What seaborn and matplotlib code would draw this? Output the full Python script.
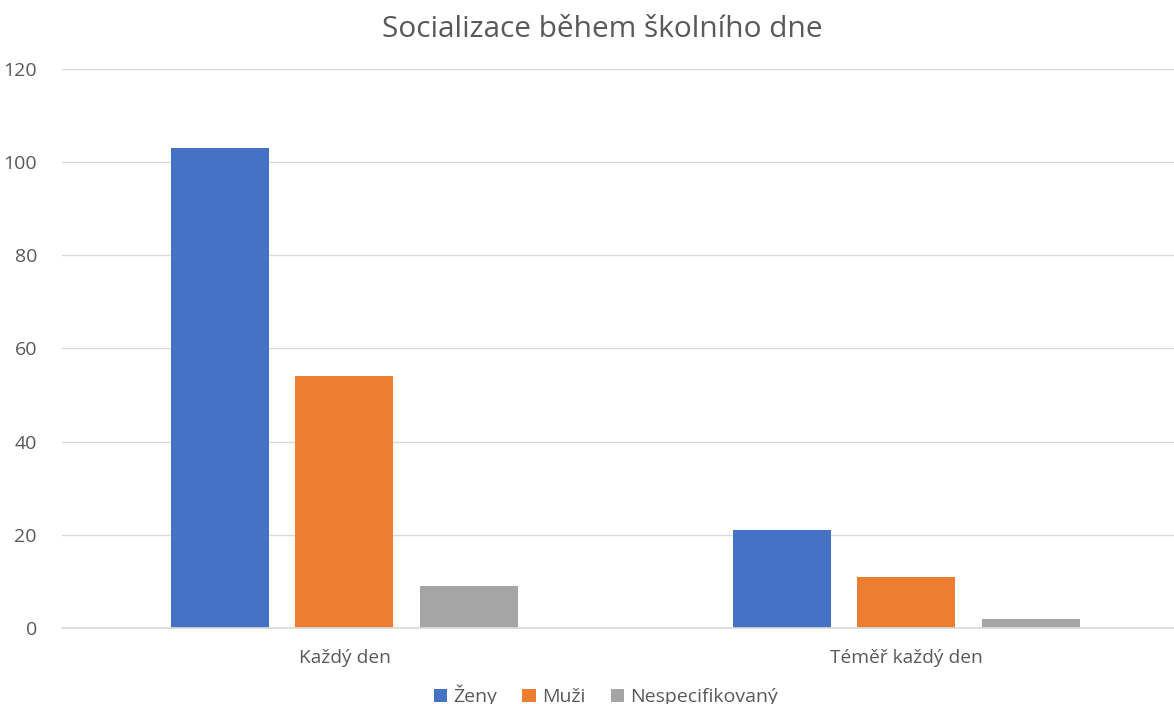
import matplotlib
matplotlib.use("Agg")
import matplotlib.pyplot as plt
import seaborn as sns
import pandas as pd

categories = ["Každý den", "Téměř každý den"]
series_names = ["Ženy", "Muži", "Nespecifikovaný"]
zeny = [103, 21]
muzi = [54, 11]
nespecifikovany = [9, 2]
y_ticks = [0, 20, 40, 60, 80, 100, 120]

colors = ["#4472C4", "#ED7D31", "#A5A5A5"]
text_color = "#595959"

rows = []
for name, vals in zip(series_names, [zeny, muzi, nespecifikovany]):
    for cat, v in zip(categories, vals):
        rows.append({"Kategorie": cat, "Pohlaví": name, "Počet": v})
df = pd.DataFrame(rows)

sns.set_theme(style="white")
plt.rcParams["font.family"] = ["Open Sans", "DejaVu Sans"]

fig = plt.figure(figsize=(11.74, 7.04), dpi=100)
ax = fig.add_axes([0.0528, 0.108, 0.9472, 0.794])

sns.barplot(data=df, x="Kategorie", y="Počet", hue="Pohlaví",
            hue_order=series_names, order=categories, palette=colors,
            width=0.665, gap=0.213, saturation=1, linewidth=0,
            ax=ax, legend=True)

ax.set_ylim(0, 120)
ax.set_xlim(-0.503, 1.477)
ax.set_yticks(y_ticks)
ax.set_yticklabels([str(t) for t in y_ticks], fontsize=14, color=text_color)
ax.tick_params(axis="x", labelsize=13.8, colors=text_color, length=0, pad=15)
ax.tick_params(axis="y", length=0, pad=18)
ax.yaxis.grid(True, color="#D9D9D9", linewidth=1)
ax.set_axisbelow(True)
for s in ["top", "right", "left"]:
    ax.spines[s].set_visible(False)
ax.spines["bottom"].set_color("#D9D9D9")
ax.set_xlabel("")
ax.set_ylabel("")

handles, labels = ax.get_legend_handles_labels()
ax.get_legend().remove()
fig.legend(handles, labels, loc="lower center", bbox_to_anchor=(0.516, -0.028),
           ncol=3, frameon=False, fontsize=14, labelcolor=text_color,
           handlelength=0.7, handleheight=0.7, handletextpad=0.3, columnspacing=1.3)

fig.suptitle("Socializace během školního dne", x=0.513, y=0.978, fontsize=21.5,
             color=text_color)

fig.savefig("out.png", dpi=100)
